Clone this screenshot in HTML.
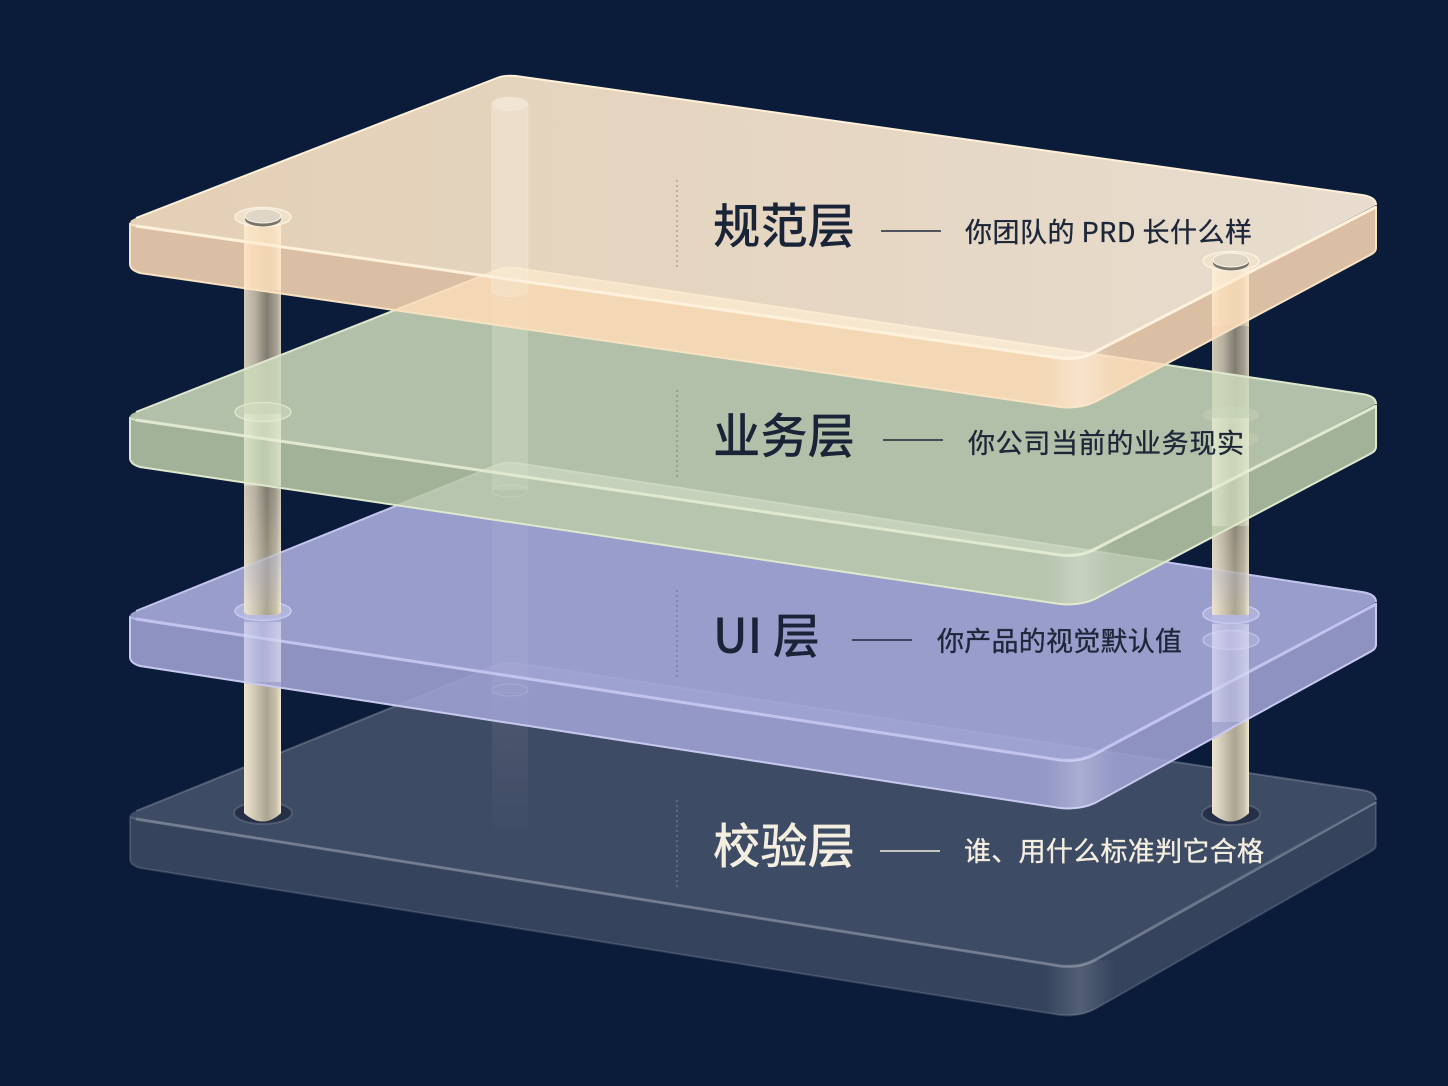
<!DOCTYPE html>
<html lang="zh"><head><meta charset="utf-8"><style>
html,body{margin:0;padding:0;background:#0b1c3a;width:1448px;height:1086px;overflow:hidden}
svg{display:block}
text{font-family:"Liberation Sans","Noto Sans CJK SC",sans-serif}
.h{font-family:"Noto Sans CJK SC","Liberation Sans",sans-serif;font-size:48px;font-weight:500;fill:#1a2438}
.s{font-family:"Noto Sans CJK SC","Liberation Sans",sans-serif;font-size:27px;fill:#1d2739;stroke:#1d2739;stroke-width:.35}
</style></head><body>
<svg width="1448" height="1086" viewBox="0 0 1448 1086" xmlns="http://www.w3.org/2000/svg">
<defs>
<linearGradient id="rod" x1="0" x2="1" y1="0" y2="0"><stop offset="0" stop-color="#d2c9b7"/><stop offset=".3" stop-color="#b8b0a0"/><stop offset=".62" stop-color="#817c70"/><stop offset=".88" stop-color="#a7a193"/><stop offset="1" stop-color="#cfc7b5"/></linearGradient>
<linearGradient id="rodb" x1="0" x2="1" y1="0" y2="0"><stop offset="0" stop-color="#eee5cf"/><stop offset=".3" stop-color="#cfc7b3"/><stop offset=".62" stop-color="#aaa491"/><stop offset=".88" stop-color="#cbc3ae"/><stop offset="1" stop-color="#f2e8cf"/></linearGradient>
<linearGradient id="ogl" x1="0" x2="1" y1="0" y2="0"><stop offset="0" stop-color="#fff2d8" stop-opacity=".5"/><stop offset=".2" stop-color="#fbe6c0" stop-opacity=".32"/><stop offset=".8" stop-color="#fbe6c0" stop-opacity=".32"/><stop offset="1" stop-color="#fff2d8" stop-opacity=".5"/></linearGradient>
<linearGradient id="ggl" x1="0" x2="1" y1="0" y2="0"><stop offset="0" stop-color="#eef2dc" stop-opacity=".5"/><stop offset=".5" stop-color="#dfe8cc" stop-opacity=".22"/><stop offset="1" stop-color="#eef2dc" stop-opacity=".5"/></linearGradient>
<linearGradient id="bgl" x1="0" x2="1" y1="0" y2="0"><stop offset="0" stop-color="#e6e4f5" stop-opacity=".55"/><stop offset=".5" stop-color="#cfcfee" stop-opacity=".28"/><stop offset="1" stop-color="#e6e4f5" stop-opacity=".55"/></linearGradient>
<linearGradient id="ot" x1="0" x2="1" y1="0" y2="0"><stop offset="0" stop-color="#fbe3c3"/><stop offset="1" stop-color="#fff1de"/></linearGradient>
<linearGradient id="band" x1="0" x2="1" y1="0" y2="0"><stop offset="0" stop-color="#fff" stop-opacity="0"/><stop offset=".5" stop-color="#fff" stop-opacity=".42"/><stop offset="1" stop-color="#fff" stop-opacity="0"/></linearGradient>
<linearGradient id="fadeL" gradientUnits="userSpaceOnUse" x1="0" x2="0" y1="490" y2="610"><stop offset="0" stop-color="#fff" stop-opacity="0"/><stop offset="1" stop-color="#fff" stop-opacity="1"/></linearGradient>
<linearGradient id="fadeD" gradientUnits="userSpaceOnUse" x1="0" x2="0" y1="690" y2="830"><stop offset="0" stop-color="#e0dfe8" stop-opacity=".09"/><stop offset="1" stop-color="#e0dfe8" stop-opacity=".01"/></linearGradient>
<mask id="m1" maskUnits="userSpaceOnUse" x="0" y="0" width="1448" height="1086"><rect x="200" y="485" width="1100" height="130" fill="url(#fadeL)"/></mask>
<clipPath id="cd"><path d="M130,817 L136,819 L1060,966 Q1080,968 1095,960 L1376,802 V845 Q1376,849 1370,852 L1095,1009 Q1080,1017 1060,1015 L140,868 Q130,865 130,859Z"/></clipPath>
<clipPath id="cb"><path d="M130,617 L136,619 L1060,760 Q1080,762 1095,754 L1376,604 V645 Q1376,649 1370,652 L1095,803 Q1080,810 1060,808 L140,666 Q130,663 130,657Z"/></clipPath>
<clipPath id="cg"><path d="M130,418 L136,420 L1060,555 Q1080,557 1095,549 L1376,406 V447 Q1376,451 1370,454 L1095,599 Q1080,606 1060,604 L140,467 Q130,464 130,458Z"/></clipPath>
<clipPath id="co"><path d="M130,224 L136,226 L1060,358 Q1080,360 1095,352 L1376,207 V248 Q1376,252 1370,255 L1095,402 Q1080,409 1060,407 L140,273 Q130,270 130,264Z"/></clipPath>
</defs>
<rect width="1448" height="1086" fill="#0b1c3a"/>

<!-- dark plate -->
<path d="M130,817 L136,819 L1060,966 Q1080,968 1095,960 L1376,802 V845 Q1376,849 1370,852 L1095,1009 Q1080,1017 1060,1015 L140,868 Q130,865 130,859Z" fill="#c4c8d4" fill-opacity=".23" stroke="#fff" stroke-opacity=".14" stroke-width="2"/>
<path d="M130,816 Q130,813 136,811 L497,665 Q505,662 516,663 L1362,790 Q1376,792 1376,800 L1095,960 Q1080,968 1060,966 L136,819 Q130,818 130,816Z" fill="#bcc0cc" fill-opacity=".29"/>
<path d="M136,819 L1060,966 Q1080,968 1095,960 L1376,802" fill="none" stroke="#a5abb8" stroke-opacity=".42" stroke-width="3"/>
<path d="M136,811 L497,665 Q505,662 516,663 L1362,790 Q1376,792 1376,800" fill="none" stroke="#a5abb8" stroke-opacity=".36" stroke-width="2"/>
<rect x="1045" y="960" width="70" height="60" fill="url(#band)" opacity=".35" clip-path="url(#cd)"/>

<!-- rod wells on dark plate -->
<ellipse cx="263" cy="813" rx="29" ry="11" fill="#252f48" stroke="#5f6779" stroke-opacity=".7" stroke-width="2"/>
<ellipse cx="1231" cy="814" rx="29" ry="11" fill="#252f48" stroke="#5f6779" stroke-opacity=".7" stroke-width="2"/>

<!-- rods behind plates -->
<path d="M244,222 V813 Q263,830 281,813 V222Z" fill="url(#rod)"/>
<path d="M1212,262 V813 Q1231,830 1249,813 V262Z" fill="url(#rod)"/>
<rect x="492" y="104" width="36" height="590" fill="#d8d2c4" opacity=".24"/>
<rect x="492" y="690" width="36" height="140" fill="url(#fadeD)"/>
<!-- lower beige segments -->
<path d="M244,625 V813 Q263,830 281,813 V625Z" fill="url(#rodb)"/>
<path d="M1212,625 V813 Q1231,830 1249,813 V625Z" fill="url(#rodb)"/>

<!-- blue plate -->
<path d="M130,617 L136,619 L1060,760 Q1080,762 1095,754 L1376,604 V645 Q1376,649 1370,652 L1095,803 Q1080,810 1060,808 L140,666 Q130,663 130,657Z" fill="#9fa3d4" fill-opacity=".88" stroke="#c9c9f0" stroke-width="2"/>
<path d="M130,616 Q130,613 136,611 L497,465 Q505,462 516,463 L1362,592 Q1376,594 1376,602 L1095,754 Q1080,762 1060,760 L136,619 Q130,618 130,616Z" fill="#a9acdc" fill-opacity=".9"/>
<path d="M136,619 L1060,760 Q1080,762 1095,754 L1376,604" fill="none" stroke="#c3c4ee" stroke-width="3"/>
<path d="M136,611 L497,465 Q505,462 516,463 L1362,592 Q1376,594 1376,602" fill="none" stroke="#c3c4ee" stroke-width="2"/>
<rect x="1045" y="750" width="70" height="62" fill="url(#band)" opacity=".5" clip-path="url(#cb)"/>
<ellipse cx="263" cy="611" rx="28" ry="9.5" fill="#c5c6ea" fill-opacity=".55" stroke="#c9caf0" stroke-width="1.5"/>
<ellipse cx="1231" cy="614" rx="28" ry="9.5" fill="#c5c6ea" fill-opacity=".5" stroke="#c9caf0" stroke-width="1.5"/>
<ellipse cx="1231" cy="640" rx="28" ry="9.5" fill="#c5c6ea" fill-opacity=".35" stroke="#c9caf0" stroke-opacity=".7" stroke-width="1.5"/>
<ellipse cx="510" cy="690" rx="18" ry="6" fill="none" stroke="#c9caf0" stroke-opacity=".3"/>
<!-- rod stubs standing on blue -->
<g mask="url(#m1)">
<path d="M244,470 V612 Q263,630 281,612 V470Z" fill="url(#rodb)"/>
<path d="M1212,470 V614 Q1231,632 1249,614 V470Z" fill="url(#rodb)"/>
</g>
<!-- rod segments through blue -->
<rect x="244" y="622" width="37" height="60" fill="url(#bgl)"/>
<rect x="1212" y="624" width="37" height="98" fill="url(#bgl)"/>

<!-- green plate -->
<path d="M130,418 L136,420 L1060,555 Q1080,557 1095,549 L1376,406 V447 Q1376,451 1370,454 L1095,599 Q1080,606 1060,604 L140,467 Q130,464 130,458Z" fill="#bccba9" fill-opacity=".86" stroke="#dfe8cc" stroke-width="2"/>
<path d="M130,417 Q130,414 136,412 L497,270 Q505,267 516,268 L1362,394 Q1376,396 1376,404 L1095,549 Q1080,557 1060,555 L136,420 Q130,419 130,417Z" fill="#cdd9ba" fill-opacity=".87"/>
<path d="M136,420 L1060,555 Q1080,557 1095,549 L1376,406" fill="none" stroke="#e0e9cf" stroke-width="3"/>
<path d="M136,412 L497,270 Q505,267 516,268 L1362,394 Q1376,396 1376,404" fill="none" stroke="#dfe8cf" stroke-width="2"/>
<rect x="1045" y="545" width="70" height="62" fill="url(#band)" opacity=".55" clip-path="url(#cg)"/>
<ellipse cx="263" cy="412" rx="28" ry="9.5" fill="#d5dfc4" fill-opacity=".45" stroke="#dde5cc" stroke-width="1.5"/>
<ellipse cx="1231" cy="415" rx="28" ry="9" fill="#d5dfc4" fill-opacity=".25"/>
<ellipse cx="1231" cy="439" rx="28" ry="9" fill="#d5dfc4" fill-opacity=".2"/>
<ellipse cx="510" cy="491" rx="18" ry="6" fill="none" stroke="#dde5cc" stroke-opacity=".3"/>
<!-- rods through green -->
<rect x="244" y="414" width="37" height="72" fill="url(#ggl)"/>
<rect x="1212" y="418" width="37" height="108" fill="url(#ggl)"/>
<rect x="492" y="300" width="36" height="190" fill="#e6ebd7" opacity=".16"/>

<!-- orange plate -->
<path d="M130,224 L136,226 L1060,358 Q1080,360 1095,352 L1376,207 V248 Q1376,252 1370,255 L1095,402 Q1080,409 1060,407 L140,273 Q130,270 130,264Z" fill="#ffdcb9" fill-opacity=".85" stroke="#f7e3c2" stroke-width="2"/>
<path d="M130,223 Q130,220 136,218 L497,78 Q505,75 516,76 L1362,195 Q1376,197 1376,205 L1095,352 Q1080,360 1060,358 L136,226 Q130,225 130,223Z" fill="url(#ot)" fill-opacity=".9"/>
<path d="M136,226 L1060,358 Q1080,360 1095,352 L1376,207" fill="none" stroke="#fff1dc" stroke-width="3"/>
<path d="M136,218 L497,78 Q505,75 516,76 L1362,195 Q1376,197 1376,205" fill="none" stroke="#fff0d8" stroke-width="2"/>
<rect x="1045" y="350" width="70" height="62" fill="url(#band)" opacity=".7" clip-path="url(#co)"/>

<!-- rods over orange -->
<path d="M492,104 A18,7 0 0 1 528,104 V292 Q510,302 492,292Z" fill="#f6efe2" fill-opacity=".3" stroke="#fbf3e4" stroke-opacity=".3"/>
<ellipse cx="510" cy="104" rx="18" ry="7" fill="#f0e6d3"/>
<rect x="244" y="224" width="37" height="66" fill="url(#ogl)"/>
<rect x="1212" y="266" width="37" height="60" fill="url(#ogl)"/>
<!-- caps -->
<ellipse cx="263" cy="217" rx="28" ry="9.5" fill="#f0e1ca" stroke="#fbf1df" stroke-width="1.5"/>
<ellipse cx="263" cy="219" rx="18" ry="7.5" fill="#77736a"/>
<ellipse cx="263" cy="216" rx="18" ry="7" fill="#e0d6c6" stroke="#fbf5e8"/>
<ellipse cx="1231" cy="261" rx="28" ry="9.5" fill="#f0e1ca" stroke="#fbf1df" stroke-width="1.5"/>
<ellipse cx="1231" cy="263" rx="18" ry="7.5" fill="#77736a"/>
<ellipse cx="1231" cy="260" rx="18" ry="7" fill="#e0d6c6" stroke="#fbf5e8"/>

<!-- labels -->
<line x1="677" y1="180" x2="677" y2="268" stroke="#6f6c66" stroke-opacity=".7" stroke-dasharray="2 3"/>
<line x1="677" y1="390" x2="677" y2="478" stroke="#5b655a" stroke-opacity=".7" stroke-dasharray="2 3"/>
<line x1="677" y1="590" x2="677" y2="677" stroke="#4f5480" stroke-opacity=".7" stroke-dasharray="2 3"/>
<line x1="677" y1="800" x2="677" y2="887" stroke="#aeb3bf" stroke-opacity=".6" stroke-dasharray="2 3"/>

<text class="h" x="713" y="243" textLength="142" lengthAdjust="spacingAndGlyphs">规范层</text>
<line x1="881" y1="231" x2="941" y2="231" stroke="#1d2739" stroke-width="1.6"/>
<text class="s" x="965" y="242" textLength="287">你团队的 PRD 长什么样</text>

<text class="h" x="713" y="453" textLength="142" lengthAdjust="spacingAndGlyphs">业务层</text>
<line x1="883" y1="440" x2="943" y2="440" stroke="#1d2739" stroke-width="1.6"/>
<text class="s" x="968" y="453" textLength="276">你公司当前的业务现实</text>

<text class="h" x="713" y="653" textLength="107" lengthAdjust="spacingAndGlyphs">UI 层</text>
<line x1="852" y1="640" x2="912" y2="640" stroke="#1d2739" stroke-width="1.6"/>
<text class="s" x="937" y="651" textLength="245">你产品的视觉默认值</text>

<text class="h" x="713" y="863" textLength="142" lengthAdjust="spacingAndGlyphs" style="fill:#f3eee0">校验层</text>
<line x1="880" y1="851" x2="940" y2="851" stroke="#f3eee0" stroke-width="1.6"/>
<text class="s" x="964" y="861" textLength="300" style="fill:#f3eee0;stroke:#f3eee0">谁、用什么标准判它合格</text>
</svg>
</body></html>
